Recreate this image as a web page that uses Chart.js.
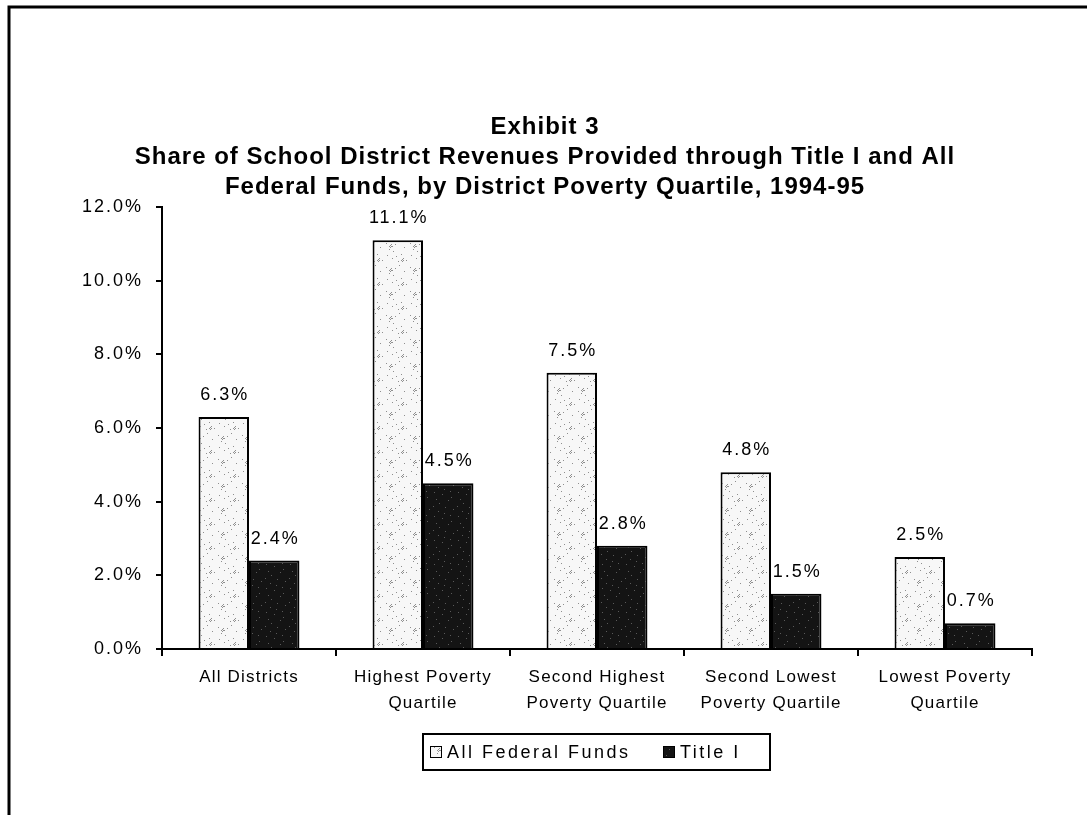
<!DOCTYPE html>
<html>
<head>
  <title>Exhibit 3 - Federal Revenue Share</title>
  <script src="https://cdn.jsdelivr.net/npm/chart.js"></script>
  <style>
    body { margin: 0; background: #fff; }
    #wrap { width: 1087px; height: 815px; position: relative; }
  </style>
</head>
<body>
  <div id="wrap"><canvas id="barChart"></canvas></div>

  <script>
    // chart data
    const categories = [
      ['All Districts'],
      ['Highest Poverty', 'Quartile'],
      ['Second Highest', 'Poverty Quartile'],
      ['Second Lowest', 'Poverty Quartile'],
      ['Lowest Poverty', 'Quartile']
    ];
    const federalFunds = [6.3, 11.1, 7.5, 4.8, 2.5];
    const titleOne = [2.4, 4.5, 2.8, 1.5, 0.7];
    const seriesNames = ['All Federal Funds', 'Title I'];
    const yTicks = [0, 2, 4, 6, 8, 10, 12];
    const titleLines = [
      'Exhibit 3',
      'Share of School District Revenues Provided through Title I and All',
      'Federal Funds, by District Poverty Quartile, 1994-95'
    ];

    const FONT = '"Liberation Sans", Arial, sans-serif';

    // stippled fills for the two series
    function makePattern(bg, dot, dots, size) {
      const c = document.createElement('canvas');
      c.width = size; c.height = size;
      const g = c.getContext('2d');
      g.fillStyle = bg;
      g.fillRect(0, 0, size, size);
      g.fillStyle = dot;
      dots.forEach(([x, y]) => g.fillRect(x, y, 1, 1));
      return g.createPattern(c, 'repeat');
    }
    const lightDots = [[2,3],[5,9],[11,4],[17,14],[20,7],[8,18],[14,21],[3,15],[22,20],[9,11],[15,1],[12,16],
      [6,5],[7,6],[6,7],[8,6],[5,6],[7,4],[18,19],[19,20],[17,20],[18,21],[19,18]];
    const darkDots = [[1,2],[6,7],[13,3],[18,11],[21,5],[4,19],[10,14],[16,20],[7,23],[19,17],[12,9],[2,12]];
    const lightFill = makePattern('#f7f7f7', '#8f8f8f', lightDots, 24);
    const darkFill = makePattern('#141414', '#5a5a5a', darkDots, 24);

    // wide letter spacing on axis labels
    function spaceLabels(scale, spacing) {
      if (scale._spaced) return;
      const orig = scale.drawLabels.bind(scale);
      scale.drawLabels = function (area) {
        const c = this.ctx;
        const prev = c.letterSpacing;
        c.letterSpacing = spacing;
        orig(area);
        c.letterSpacing = prev;
      };
      scale._spaced = true;
    }

    const pageDecor = {
      id: 'pageDecor',
      afterLayout(chart) {
        spaceLabels(chart.scales.x, '1.2px');
        spaceLabels(chart.scales.y, '2px');
      },
      beforeDraw(chart) {
        const ctx = chart.ctx;
        ctx.save();
        ctx.fillStyle = '#fff';
        ctx.fillRect(0, 0, chart.width, chart.height);
        // outer frame (left and top edges)
        ctx.strokeStyle = '#000';
        ctx.lineWidth = 3;
        ctx.beginPath();
        ctx.moveTo(9, chart.height);
        ctx.lineTo(9, 7);
        ctx.lineTo(chart.width, 7);
        ctx.stroke();
        // title
        ctx.fillStyle = '#000';
        ctx.font = 'bold 24px ' + FONT;
        ctx.letterSpacing = '1px';
        ctx.textAlign = 'center';
        ctx.textBaseline = 'middle';
        titleLines.forEach((t, i) => ctx.fillText(t, 545, 127 + i * 30));
        ctx.restore();
      },
      afterDatasetsDraw(chart) {
        const ctx = chart.ctx;
        ctx.save();
        ctx.fillStyle = '#000';
        ctx.font = '18px ' + FONT;
        ctx.letterSpacing = '2px';
        ctx.textAlign = 'center';
        ctx.textBaseline = 'middle';
        chart.data.datasets.forEach((ds, di) => {
          chart.getDatasetMeta(di).data.forEach((bar, i) => {
            ctx.fillText(ds.data[i].toFixed(1) + '%', bar.x + 1, bar.y - 22);
          });
        });
        ctx.restore();
      },
      afterDraw(chart) {
        // boxed legend below the axis
        const ctx = chart.ctx;
        ctx.save();
        ctx.strokeStyle = '#000';
        ctx.lineWidth = 2;
        ctx.strokeRect(423, 734, 347, 36);
        const items = [
          { x: 430, fill: lightFill },
          { x: 663, fill: darkFill }
        ];
        ctx.font = '18px ' + FONT;
        ctx.letterSpacing = '2.5px';
        ctx.textBaseline = 'middle';
        items.forEach((it, i) => {
          ctx.fillStyle = it.fill;
          ctx.fillRect(it.x, 746, 12, 12);
          ctx.lineWidth = 1;
          ctx.strokeRect(it.x + 0.5, 746.5, 11, 11);
          ctx.fillStyle = '#000';
          ctx.fillText(seriesNames[i], it.x + 17, 753);
        });
        ctx.restore();
      }
    };

    const ctx = document.getElementById('barChart').getContext('2d');
    new Chart(ctx, {
      type: 'bar',
      data: {
        labels: categories,
        datasets: [
          {
            label: seriesNames[0],
            data: federalFunds,
            backgroundColor: lightFill,
            borderColor: '#000',
            borderWidth: 2,
            categoryPercentage: 0.58,
            barPercentage: 1.0
          },
          {
            label: seriesNames[1],
            data: titleOne,
            backgroundColor: darkFill,
            borderColor: '#000',
            borderWidth: 2,
            categoryPercentage: 0.58,
            barPercentage: 1.0
          }
        ]
      },
      options: {
        responsive: true,
        maintainAspectRatio: false,
        animation: false,
        layout: { padding: { left: 0, top: 207, right: 55, bottom: 86 } },
        plugins: {
          legend: { display: false },
          title: { display: false },
          tooltip: { enabled: false }
        },
        scales: {
          x: {
            afterFit(scale) { scale.height = 80; },
            border: { color: '#000', width: 2 },
            grid: { offset: true, drawOnChartArea: false, color: '#000', lineWidth: 2, tickLength: 7 },
            ticks: {
              color: '#000',
              font: { family: FONT, size: 17, lineHeight: '26px' },
              padding: 8,
              maxRotation: 0,
              autoSkip: false
            }
          },
          y: {
            min: 0,
            max: 12,
            afterFit(scale) { scale.width = 162; },
            afterBuildTicks(scale) { scale.ticks = yTicks.map(v => ({ value: v })); },
            border: { color: '#000', width: 2 },
            grid: { drawOnChartArea: false, color: '#000', lineWidth: 2, tickLength: 6 },
            ticks: {
              color: '#000',
              font: { family: FONT, size: 18 },
              padding: 13,
              callback: v => v.toFixed(1) + '%'
            }
          }
        }
      },
      plugins: [pageDecor]
    });
  </script>
</body>
</html>
